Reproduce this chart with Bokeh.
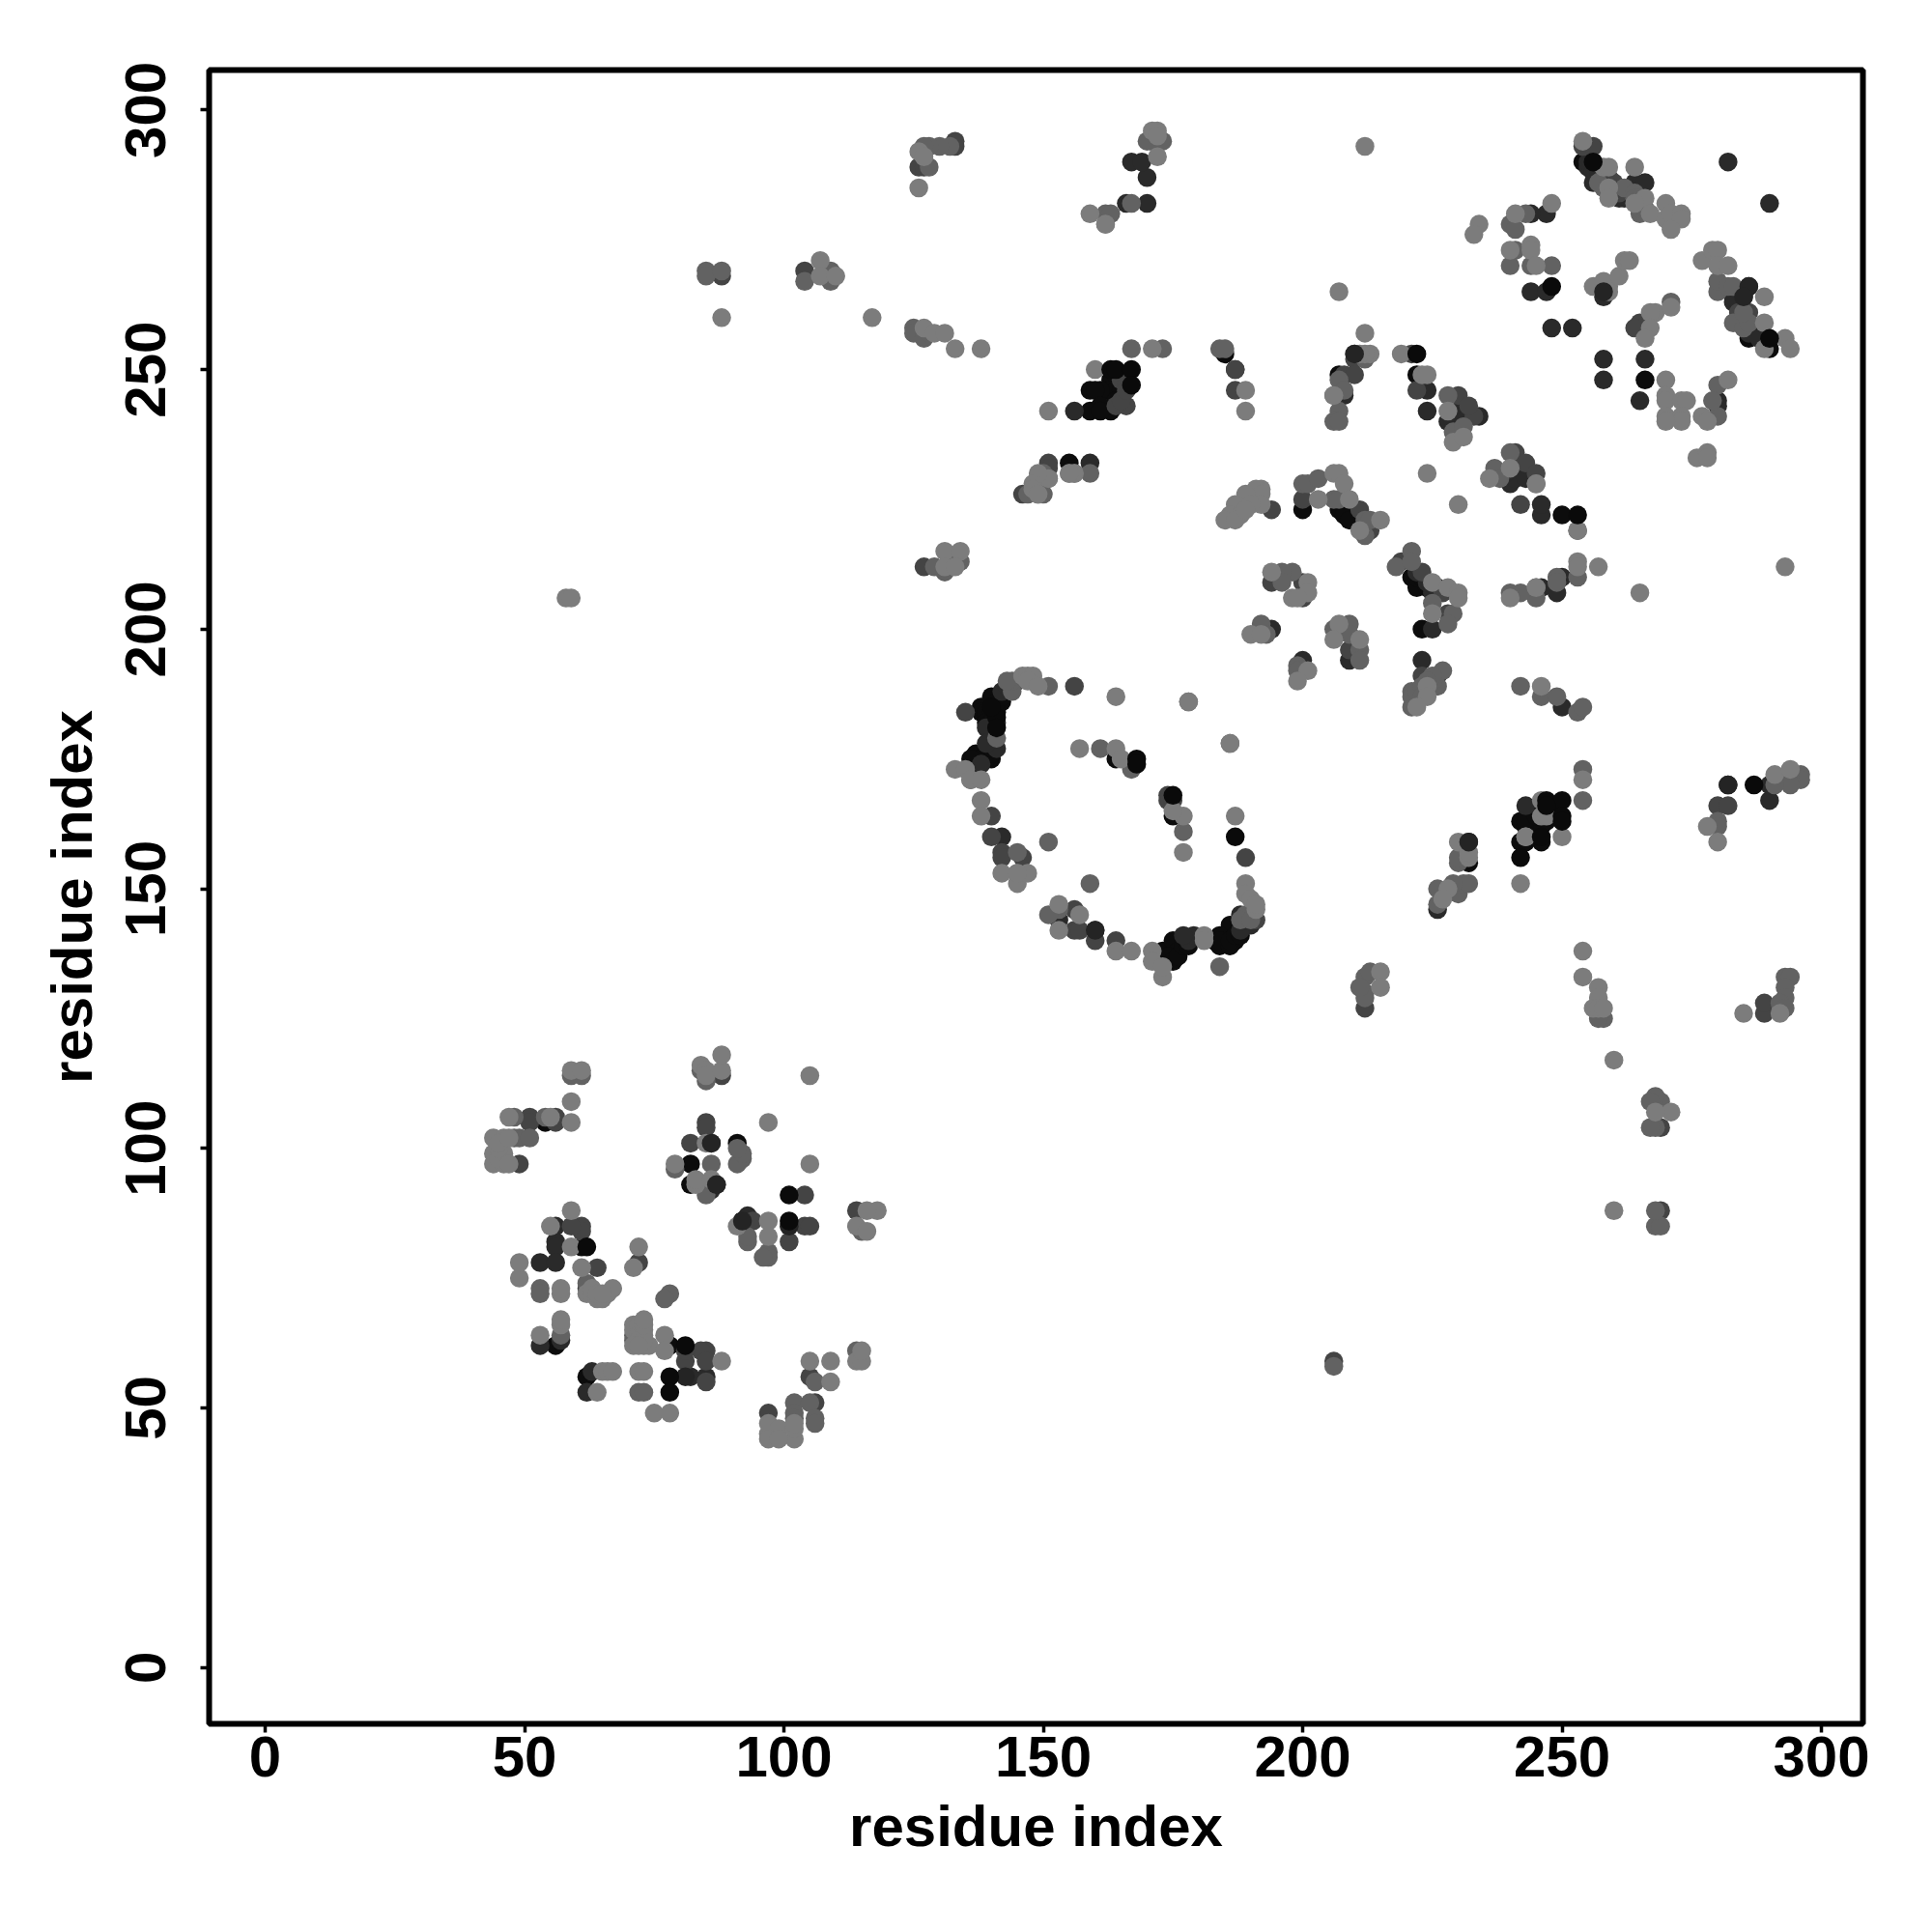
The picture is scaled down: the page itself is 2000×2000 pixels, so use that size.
from bokeh.plotting import figure
from bokeh.embed import file_html
from bokeh.resources import INLINE
from bokeh.models import Range1d, FixedTicker

x_ticks = [0, 50, 100, 150, 200, 250, 300]
y_ticks = [0, 50, 100, 150, 200, 250, 300]
x_title = "residue index"
y_title = "residue index"

under_black = [(54,105),(91,101),(82,97),(82,93),(92,86),(56,62),(61,81),(62,56),(78,62),
 (140,187),(142,186),(138,185),(138,184),(139,183),(137,176),(136,174),(136,173),(140,175),(139,175),
 (164,175),(175,164),(173,138),(174,136),(175,137),(183,140),(184,139),(186,141),(186,143),(187,140),(175,140),(176,138),
 (185,253),(207,249),(222,249),(200,223),(207,223),(208,222),(209,221),(221,210),(222,208),(223,200),(250,222),
 (254,290),(242,163),(243,162),(242,159),(246,159),(232,155),(266,248),(286,256),(290,254),(163,248),(162,246),(163,246),(163,242),(159,246),(159,242),(155,232),
 (140,183),(139,184),(140,184),(141,184),(139,182),(140,182),(141,186),(142,187),(139,177),(138,176),(139,176),(137,175),(137,174),(137,173),(138,175),(136,175),(140,176),(140,177),
 (174,137),(175,136),(176,137),(177,139),(178,139),(184,141),(185,140),(184,140),(186,139),(186,140),(187,141),(188,143),(188,141),
 (244,162),(245,163),(246,162),(247,163),(243,163),(244,160),(243,159),(245,164),(248,164),(248,166),(249,166),(246,166),
 (164,246),(165,246),(164,244),(161,246),(160,246),(161,243),(161,242),(222,210),(223,210),(224,208)]
under_vdark = [(85,93),(86,92),(87,93),(86,101),(93,87),(56,85),(56,82),(56,81),(53,78),(56,78),(63,57),(62,53),(53,62),(57,63),(85,56),(82,56),
 (141,182),(139,181),(142,188),(143,189),(141,177),(139,178),(138,174),(142,160),(160,142),(153,144),(178,140),(179,141),(177,141),(190,143),(188,142),(188,145),
 (187,250),(208,245),(224,246),(224,242),(230,242),(228,240),(234,241),(240,230),(240,228),(241,232),(250,210),(249,207),(246,208),(225,207),(225,200),(194,200),(200,194),(209,194),(223,194),(226,191),(250,185),
 (246,222),(246,224),(244,265),(247,265),(248,258),(252,258),(258,252),(258,248),(266,252),(265,244),(282,290),(290,282),(256,290),(261,285),(261,283),(264,286),(266,286),(256,286),(285,264),(286,266),(283,263),(286,257),(258,264),(247,280),(244,280),(280,244),(280,243),(167,290),(170,287),(171,294),(169,290),(170,282),(156,242),(159,232),(166,282),(226,146),(258,266),(290,167),(290,170),(282,170),(232,159),(243,166),
 (222,211),(224,209),(226,208),(226,207),(229,241),(231,241),(232,241),(229,240),(231,240),(241,231),(241,230),(241,229),(242,231),(243,231),(243,229),(239,230),
 (255,289),(255,290),(256,288),(257,288),(262,284),(263,284),(263,283),(262,283),(284,262),(284,263),(284,265),(283,264),(287,258),(287,257),(288,256)]
g40 = [(85,105),(85,104),(51,106),(51,105),(82,101),(104,91),(104,85),(105,85),(49,97),(72,78),(62,73),(56,105),(56,106),(61,85),(61,84),(59,85),(64,77),(81,59),
 (85,61),(84,61),(85,59),(85,55),(105,56),(106,51),(97,49),(94,86),(101,82),(114,88),(88,114),(81,61),
 (156,189),(135,184),(140,164),(140,160),(142,157),(142,156),(146,156),(156,146),(156,142),(157,142),(160,140),(164,140),(189,156),(191,144),(145,190),
 (187,250),(187,246),(210,253),(210,252),(208,249),(210,249),(221,253),(222,246),(230,245),(233,241),(232,243),(241,234),(243,232),(245,230),(242,224),(194,223),(200,225),(211,223),(213,219),
 (223,211),(219,213),(194,209),(200,209),(200,206),(228,203),(223,191),(209,196),(254,293),(256,293),(266,259),(265,259),(265,258),(264,258),(127,212),(126,289),(127,289),(104,269),(133,293),(133,294),(280,166),(282,166),(166,243),(146,226),(151,232),(151,231),(88,268),(269,104),(289,126),(289,128),(212,127),(269,88),(206,59),
 (174,168),(174,167),(175,167),(165,248),(166,247),(164,243),(165,244),(166,246),(227,207),
 (258,287),(259,287),(260,286),(260,285),(261,284),(284,261),(284,260),(285,260),(286,261)]
g5a = [(59,114),(61,114),(54,106),(48,106),(49,102),(48,102),(51,102),(79,96),(84,115),(85,113),(86,97),(92,98),(91,97),(92,99),(91,100),(85,91),(93,82),(93,83),(97,80),(97,79),(96,79),(115,84),
 (53,73),(53,72),(62,74),(78,72),(77,71),(57,64),(72,53),(73,53),(71,63),(71,64),(102,51),(102,49),(102,48),(105,51),(106,55),(106,48),(106,47),(114,61),
 (144,188),(144,190),(143,190),(141,179),(151,189),(136,171),(153,146),(151,145),(184,135),(189,145),(188,144),(190,144),(178,186),(161,177),(167,173),(177,161),(145,153),(145,157),(186,178),(151,159),(159,151),
 (184,254),(185,254),(212,252),(207,248),(208,246),(206,245),(207,242),(206,240),(207,240),(228,245),(229,238),(231,239),(237,231),(238,229),(240,234),(245,228),(253,219),
 (200,228),(201,228),(203,229),(206,225),(207,225),(212,221),(213,221),(212,218),(221,215),(218,212),(221,213),(225,205),(229,203),(228,201),(192,201),(193,199),(199,193),(199,192),(206,200),(209,201),(209,199),(211,196),(211,194),(227,192),(226,189),
 (221,185),(222,186),(221,188),(221,187),(242,189),(246,187),(249,187),(253,184),(254,185),(198,211),(196,211),(196,209),(249,210),(249,209),(245,206),(245,208),(253,210),(242,207),(240,207),
 (244,270),(241,273),(240,270),(248,270),(240,278),(243,280),(241,277),(280,265),(280,267),(282,266),(283,266),(283,259),(285,258),(286,259),(285,261),(280,247),(280,241),(279,244),(271,263),(258,285),(257,286),(262,285),(264,284),(265,280),
 (85,269),(85,268),(88,269),(104,267),(109,269),(109,267),(125,258),(125,257),(127,256),(128,257),(132,293),(130,293),(128,293),(127,293),(128,289),(162,280),(163,280),(162,278),(167,282),(173,254),(167,254),(171,294),(170,294),(173,294),(129,212),(132,213),(134,213),(131,211),(147,226),(149,226),(150,226),(151,229),(150,230),(156,230),(159,230),(155,230),(254,173),(254,167),(226,150),(226,147),(230,149),(230,155),(230,156),(231,151),(232,151),(229,151),(280,163),(280,162),(293,133),(294,133),(293,131),(293,129),(292,128),(293,127),(212,133),(212,130),(212,129),(211,131),(213,134),(268,85),(269,85),(268,88),(268,104),(267,104),(269,109),(268,110),(267,109),(296,172),(296,171),(294,171),(294,170),(291,170),(258,125),(257,125),(206,58),
 (222,188),(223,189),(225,190),(225,191),(224,190),(223,187),(264,283),(265,282),(265,283),(265,281),(266,281)]
g70 = [(59,109),(97,105),(55,106),(105,97),(97,86),(97,83),(83,93),(83,94),(85,101),(86,94),(79,97),(84,116),(105,114),(91,85),(118,88),(116,88),(114,85),(116,84),(49,75),(49,78),
 (44,102),(46,102),(44,99),(46,99),(44,97),(46,97),(45,98),(45,100),(45,101),(47,102),(47,97),(47,106),(59,88),(59,115),(61,115),(85,115),(85,114),(88,115),(88,118),(59,105),
 (59,81),(55,85),(72,81),(71,77),(61,77),(62,72),(63,72),(64,71),(65,71),(66,72),(67,73),(57,72),(57,73),(71,66),(72,65),(73,62),(74,62),(77,64),(77,61),(75,49),(78,49),(57,66),(57,67),(53,64),(64,53),
 (71,65),(72,66),(72,64),(73,65),(73,64),(72,63),(73,63),(71,62),(72,62),(73,66),(73,67),(72,57),(73,57),(65,57),(66,57),(67,57),(63,73),(64,72),(65,72),(88,59),
 (97,45),(97,47),(99,46),(102,44),(102,46),(97,44),(99,44),(102,47),(105,59),(109,59),(114,59),(115,59),(115,61),(109,55),
 (146,191),(147,191),(148,191),(147,190),(149,189),(164,187),(186,178),(138,167),(138,164),(133,173),(135,173),(136,171),(138,171),(153,147),(157,145),(153,142),(145,151),(147,153),(142,153),(145,153),(164,138),(167,138),(171,138),(171,136),(173,133),(173,135),(181,141),(181,140),(189,151),(189,149),(190,148),(191,146),(191,147),(157,177),(164,177),(165,175),(177,164),(175,165),(177,157),(187,164),(178,186),
 (189,246),(189,242),(213,253),(212,253),(211,253),(206,245),(219,253),(223,249),(224,249),(228,242),(229,236),(231,237),(212,257),(224,230),(230,224),(236,229),(240,231),(245,228),(253,219),(253,213),(253,212),(257,212),
 (192,227),(191,227),(192,226),(189,226),(192,224),(190,224),(187,224),(186,222),(188,222),(185,221),(187,221),(189,223),(206,230),(207,230),(208,228),(203,225),(209,225),(215,221),(211,219),
 (225,209),(228,208),(230,207),(230,206),(225,203),(190,199),(192,199),(194,211),(201,209),(201,207),(198,206),(199,206),(207,201),(206,198),(211,198),(201,192),(199,190),(224,189),(224,187),(222,185),(246,189),(240,206),(245,208),(265,207),(293,212),(207,265),
 (254,294),(258,289),(259,289),(264,289),(259,285),(259,283),(266,283),(267,280),(264,282),(270,282),(270,279),(271,280),(273,280),(273,279),(271,277),(234,278),(233,276),(248,282),(241,280),(240,273),(244,274),(244,273),(245,270),(256,266),(259,266),(258,267),(259,265),(261,268),(262,271),(263,271),
 (268,261),(267,261),(271,262),(267,258),(266,256),(270,248),(270,245),(270,244),(273,244),(274,244),(270,241),(273,241),(273,240),(270,240),(277,241),(278,240),(282,248),(276,233),(278,234),(278,233),
 (277,271),(279,273),(280,273),(280,270),(282,270),(289,264),(289,259),(289,254),(293,256),(294,254),
 (88,260),(107,271),(107,268),(110,268),(117,260),(127,258),(129,257),(131,257),(133,254),(138,254),(126,292),(127,291),(126,285),(172,291),(172,296),(171,296),(172,295),(159,280),(162,278),(171,254),(160,250),(151,242),
 (151,229),(149,230),(148,228),(148,227),(149,226),(156,230),(155,230),(131,215),(134,215),(131,212),(133,212),(212,293),(58,206),(59,206),(254,171),(246,167),(250,160),(243,160),(242,151),(230,159),(232,156),(232,157),(228,150),(227,148),(278,162),(280,159),(291,172),(294,173),
 (254,138),(254,133),(257,131),(257,129),(256,127),(257,127),(258,127),(260,117),(271,107),(268,107),(285,126),(292,126),(215,134),(215,131),(260,88),
 (246,164),(247,164),(243,160)]
top_vdark = [(86,101),(87,93),(92,86),(81,56),(282,170),(258,265),(101,85),(210,253),(232,159),(160,142),(286,266),(285,264)]
top_black = [(62,81),(101,86),(101,91),(81,62),(78,56),(78,53),(168,175),(168,174),(175,168),(222,253),(253,222),(141,183),(141,181),(140,185),(247,167),(250,167),(250,164),(250,163),(163,250),(164,250),(167,250),(167,247),(247,166),(246,160),(187,160),(287,170),(248,266),(290,256),(256,290),(242,156)]

layers = [(under_black, "#0c0c0c"), (under_vdark, "#2a2a2a"), (g40, "#444444"), (g5a, "#626262"),
          (g70, "#7c7c7c"), (top_vdark, "#242424"), (top_black, "#0a0a0a")]

p = figure(width=1990, height=1960, output_backend="svg", toolbar_location=None,
           x_range=Range1d(-10.8, 308.0), y_range=Range1d(-10.85, 307.7),
           frame_width=1712, frame_height=1712,
           min_border_left=216, min_border_top=72, min_border_right=60, min_border_bottom=100)

for pts, col in layers:
    p.scatter([q[0] for q in pts], [q[1] for q in pts], size=19.5, marker="circle",
              fill_color=col, line_color=None)

p.grid.visible = False
p.outline_line_color = "black"
p.outline_line_width = 6
p.background_fill_color = "white"
for ax, ticks, title in ((p.xaxis[0], x_ticks, x_title), (p.yaxis[0], y_ticks, y_title)):
    ax.ticker = FixedTicker(ticks=ticks)
    ax.axis_line_color = None
    ax.major_tick_line_color = "black"
    ax.major_tick_line_width = 3.5
    ax.major_tick_in = 0
    ax.major_tick_out = 9
    ax.minor_tick_line_color = None
    ax.major_label_text_font = "Liberation Sans"
    ax.major_label_text_font_style = "bold"
    ax.major_label_text_font_size = "60px"
    ax.major_label_text_color = "black"
    ax.axis_label = title
    ax.axis_label_text_font = "Liberation Sans"
    ax.axis_label_text_font_style = "bold"
    ax.axis_label_text_font_size = "60px"
    ax.axis_label_text_color = "black"
p.xaxis[0].major_label_standoff = 4
p.xaxis[0].axis_label_standoff = 15
p.yaxis[0].major_label_orientation = "vertical"
p.yaxis[0].major_label_standoff = 36
p.yaxis[0].axis_label_standoff = 20

open("out.html", "w").write(file_html(p, INLINE))
